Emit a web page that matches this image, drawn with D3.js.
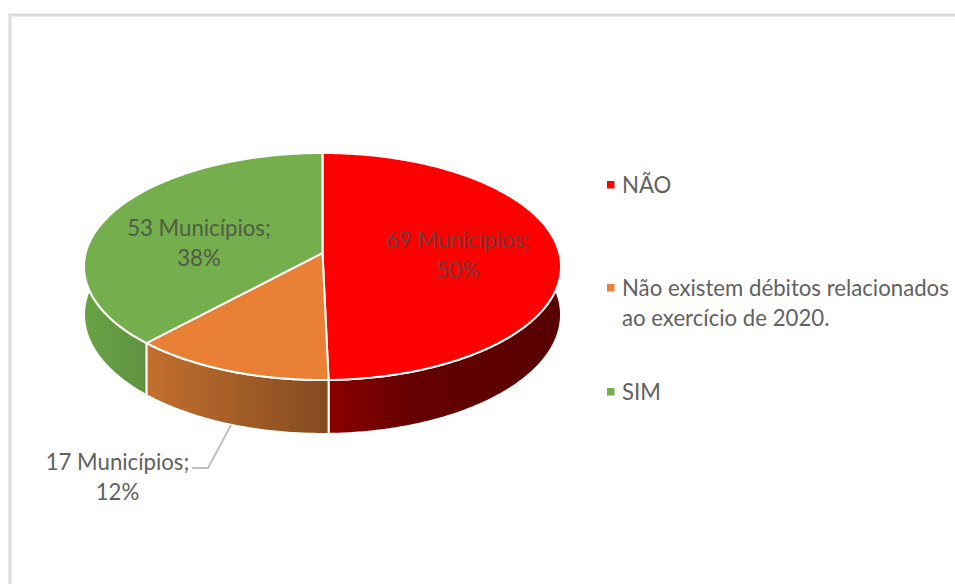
<!DOCTYPE html>
<html lang="pt">
<head>
    <meta charset="UTF-8">
    <title>Débitos relacionados ao exercício de 2020</title>
    <script src="https://d3js.org/d3.v7.min.js"></script>
    <style>
        html, body { margin: 0; padding: 0; background: #fff; overflow: hidden; }
        svg { display: block; font-family: Lato, "Open Sans", sans-serif; }
    </style>
</head>
<body>
    <div id="chart"></div>
    <script>
        // data
        const categories = ["NÃO", "Não existem débitos relacionados ao exercício de 2020.", "SIM"];
        const municipios = [69, 17, 53];
        const percentLabels = ["50%", "12%", "38%"];
        const topColors = ["#ff0000", "#ea8035", "#75ae4c"];

        const width = 955, height = 584;

        const svg = d3.select("#chart").append("svg")
            .attr("width", width)
            .attr("height", height);

        // frame, only top and left are visible in the crop
        svg.append("path")
            .attr("d", d3.line()([[10, height], [10, 15], [width, 15]]))
            .attr("fill", "none")
            .attr("stroke", "#dcdcdc")
            .attr("stroke-width", 3);

        // pie in perspective: the disc is tilted, near edge bigger than far edge
        const persp = 0.119;
        const depth = 47.5;
        const xScale = d3.scaleLinear().domain([-1, 1]).range([322.5 - 236.8, 322.5 + 236.8]);
        const yScale = d3.scaleLinear().domain([-1, 1]).range([253 - 111.9, 253 + 111.9]);

        function project(angle, drop) {
            const u = Math.sin(angle), w = -Math.cos(angle);
            const k = 1 / (1 - persp * w);
            return [xScale(u * k), yScale(w * k) + drop * k];
        }

        const arcs = d3.pie().sort(null)(municipios);

        function rim(a0, a1, drop) {
            const n = Math.max(2, Math.ceil((a1 - a0) / 0.01));
            return d3.range(n + 1).map(i => project(a0 + (a1 - a0) * i / n, drop));
        }

        const line = d3.line();

        // side gradients, darker towards the right like the reference
        const sideStops = [
            [["0%", "#8c0000"], ["35%", "#660000"], ["100%", "#570000"]],
            [["0%", "#c2702e"], ["100%", "#844b20"]],
            [["0%", "#6aa345"], ["100%", "#5e9140"]]
        ];
        const defs = svg.append("defs");
        sideStops.forEach((stops, i) => {
            const g = defs.append("linearGradient").attr("id", `side-${i}`);
            stops.forEach(s => g.append("stop").attr("offset", s[0]).attr("stop-color", s[1]));
        });

        // only the front half of the rim gets a wall
        const frontFrom = Math.PI / 2 - 0.12, frontTo = 3 * Math.PI / 2 + 0.12;
        arcs.forEach((d, i) => {
            const a0 = Math.max(d.startAngle, frontFrom);
            const a1 = Math.min(d.endAngle, frontTo);
            if (a1 <= a0) return;
            const pts = rim(a0, a1, 0).concat(rim(a0, a1, depth).reverse());
            svg.append("path")
                .attr("d", line(pts) + "Z")
                .attr("fill", `url(#side-${i})`)
                .attr("stroke", "#fff")
                .attr("stroke-width", 2)
                .attr("stroke-linejoin", "round");
        });

        // top surface
        arcs.forEach((d, i) => {
            const pts = [[xScale(0), yScale(0)]].concat(rim(d.startAngle, d.endAngle, 0));
            svg.append("path")
                .attr("d", line(pts) + "Z")
                .attr("fill", topColors[i])
                .attr("stroke", "#fff")
                .attr("stroke-width", 2)
                .attr("stroke-linejoin", "round");
        });

        // leader line of the small slice
        svg.append("path")
            .attr("d", line([[231, 425], [208, 468], [192, 468]]))
            .attr("fill", "none")
            .attr("stroke", "#bfbfbf")
            .attr("stroke-width", 2);

        // data labels
        const labelPos = [[458, 248, "#743c3c"], [117.5, 470, "#616161"], [199, 236, "#505c48"]];
        arcs.forEach((d, i) => {
            const [x, y, color] = labelPos[i];
            const t = svg.append("text")
                .attr("text-anchor", "middle")
                .attr("font-size", 22.2)
                .attr("fill", color);
            t.append("tspan").attr("x", x).attr("y", y).text(`${d.value} Municípios;`);
            t.append("tspan").attr("x", x).attr("y", y + 30).text(percentLabels[i]);
        });

        // legend
        const legendRows = [
            { y: 193, lines: [categories[0]] },
            { y: 296, lines: ["Não existem débitos relacionados", "ao exercício de 2020."] },
            { y: 400, lines: [categories[2]] }
        ];
        legendRows.forEach((row, i) => {
            svg.append("rect")
                .attr("x", 607).attr("y", row.y - 12)
                .attr("width", 7.5).attr("height", 7.5)
                .attr("fill", topColors[i]);
            row.lines.forEach((txt, j) => {
                svg.append("text")
                    .attr("x", 622).attr("y", row.y + j * 30)
                    .attr("font-size", 22.2)
                    .attr("fill", "#616161")
                    .text(txt);
            });
        });
    </script>
</body>
</html>
